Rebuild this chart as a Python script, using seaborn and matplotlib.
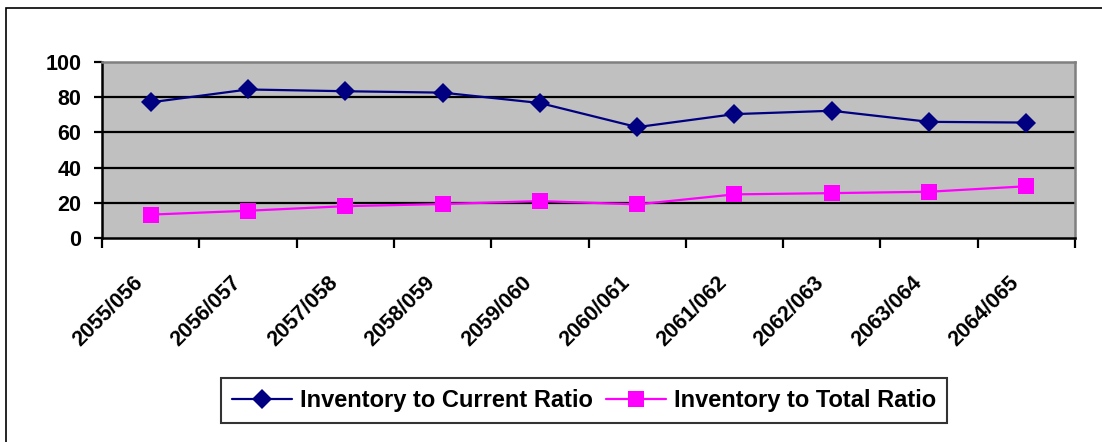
import matplotlib
matplotlib.use("Agg")
import matplotlib.pyplot as plt
import matplotlib.transforms as mtransforms
from matplotlib.patches import Rectangle
from matplotlib.ticker import FixedLocator, NullFormatter
import numpy as np
import pandas as pd
import seaborn as sns

periods = ["2055/056", "2056/057", "2057/058", "2058/059", "2059/060",
           "2060/061", "2061/062", "2062/063", "2063/064", "2064/065"]
current_ratio = [77.1, 84.4, 83.4, 82.6, 76.7, 63.0, 70.4, 72.3, 66.0, 65.6]
total_ratio = [13.3, 15.5, 18.1, 19.3, 21.0, 19.1, 24.8, 25.5, 26.3, 29.4]
y_ticks = [0, 20, 40, 60, 80, 100]

series_current = "Inventory to Current Ratio"
series_total = "Inventory to Total Ratio"

sns.set_theme(style="white")
plt.rcParams["font.family"] = ["Liberation Sans", "DejaVu Sans"]
plt.rcParams["text.color"] = "black"
plt.rcParams["xtick.color"] = "black"
plt.rcParams["ytick.color"] = "black"
plt.rcParams["xtick.labelcolor"] = "black"
plt.rcParams["ytick.labelcolor"] = "black"

positions = np.arange(len(periods))
df = pd.DataFrame({
    "pos": np.concatenate([positions, positions]),
    "value": current_ratio + total_ratio,
    "series": [series_current] * len(periods) + [series_total] * len(periods),
})

fig = plt.figure(figsize=(11.02, 4.42), dpi=100)
ax = fig.add_axes([0.0926, 0.4615, 0.9755 - 0.0926, 0.8597 - 0.4615])

# outer chart frame
fig.patches.append(Rectangle((6 / 1102, -0.05), 1.2, (442 - 8) / 442 + 0.05,
                             transform=fig.transFigure, fill=False,
                             edgecolor="black", linewidth=1.2))

palette = {series_current: "#000080", series_total: "#FF00FF"}
markers = {series_current: "D", series_total: "s"}
sns.lineplot(data=df, x="pos", y="value", hue="series", style="series",
             palette=palette, markers=markers, dashes=False, ax=ax,
             linewidth=1.6, markersize=10, markeredgewidth=0, legend=True)

# enlarge the square markers a bit
for line in ax.get_lines():
    if line.get_marker() == "s":
        line.set_markersize(11)

ax.set_facecolor("#C0C0C0")
ax.set_xlim(-0.5, len(periods) - 0.5)
ax.set_ylim(0, 100)
ax.set_xlabel("")
ax.set_ylabel("")

ax.set_yticks(y_ticks)
ax.set_yticklabels([str(v) for v in y_ticks], fontsize=15.5, fontweight="bold",
                   color="black")
for v in y_ticks[1:-1]:
    ax.axhline(v, color="black", linewidth=1.6, zorder=1)

# ticks sit on the category boundaries, labels under the category centres
ax.xaxis.set_major_locator(FixedLocator(np.arange(-0.5, len(periods), 1.0)))
ax.xaxis.set_major_formatter(NullFormatter())
ax.tick_params(axis="x", which="major", direction="out", length=7, width=1.6,
               color="black", bottom=True)
label_offset = mtransforms.ScaledTranslation(-18 / 100, -34 / 100,
                                             fig.dpi_scale_trans)
for pos, name in zip(positions, periods):
    ax.text(pos, 0, name, transform=ax.get_xaxis_transform() + label_offset,
            rotation=45, ha="right", va="top", rotation_mode="anchor",
            fontsize=15.5, fontweight="bold", color="black", clip_on=False)

ax.tick_params(axis="y", direction="out", length=6, width=1.6, color="black",
               left=True, pad=9)

for side in ("left", "bottom"):
    ax.spines[side].set_color("black")
    ax.spines[side].set_linewidth(1.8)
for side in ("top", "right"):
    ax.spines[side].set_color("#808080")
    ax.spines[side].set_linewidth(1.8)

handles, labels = ax.get_legend_handles_labels()
ax.get_legend().remove()
leg = fig.legend(handles, labels, loc="center", bbox_to_anchor=(0.530, 0.094),
                 ncol=2, frameon=True, fancybox=False, edgecolor="black",
                 prop={"weight": "bold", "size": 17}, handlelength=2.55,
                 columnspacing=0.55, handletextpad=0.34, borderpad=0.45,
                 borderaxespad=0, labelcolor="black")
leg.get_frame().set_linewidth(1.5)

fig.savefig("out.png", dpi=100, facecolor="white")
